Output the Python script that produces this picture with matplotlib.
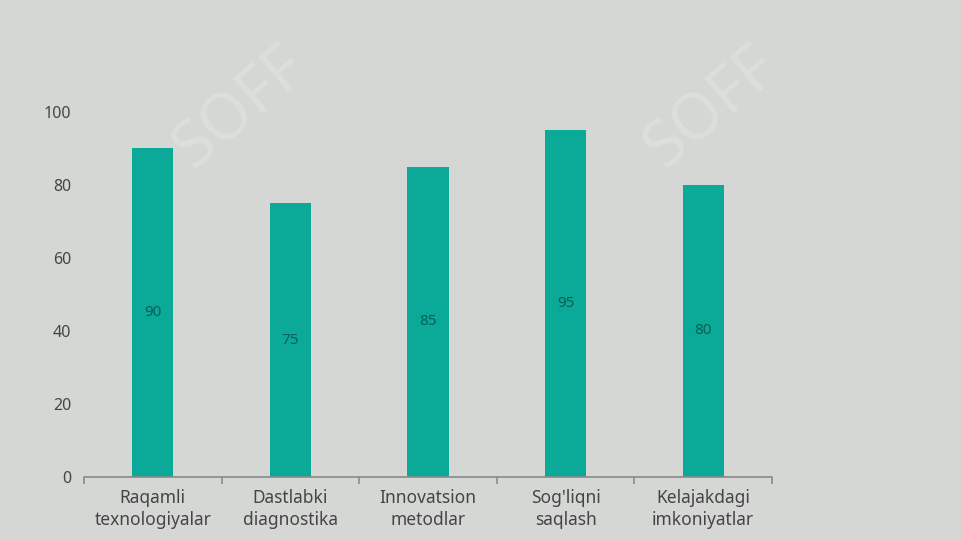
import numpy as np
import matplotlib
matplotlib.use("Agg")
import matplotlib.pyplot as plt

categories = ["Raqamli\ntexnologiyalar", "Dastlabki\ndiagnostika", "Innovatsion\nmetodlar",
              "Sog'liqni\nsaqlash", "Kelajakdagi\nimkoniyatlar"]
values = [90, 75, 85, 95, 80]
yticks = [0, 20, 40, 60, 80, 100]

bg = "#d5d7d5"
bar_color = "#0aa998"

plt.rcParams['font.family'] = ['Noto Sans', 'DejaVu Sans']

fig = plt.figure(figsize=(9.61, 5.40), dpi=100, facecolor=bg)
ax = fig.add_axes([0.0874, 0.1167, 0.7159, 0.6759])
ax.set_facecolor(bg)

x = np.arange(len(categories))
bars = ax.bar(x, values, width=0.3, color=bar_color, zorder=2)

# value labels in the middle of each bar
for xi, v in zip(x, values):
    ax.text(xi, v / 2, str(v), ha="center", va="center", fontsize=11, color="#0b5f56", zorder=3)

ax.set_xlim(-0.5, len(categories) - 0.5)
ax.set_ylim(0, 100)
ax.set_yticks(yticks)
ax.set_xticks(x)
ax.set_xticklabels(categories, fontsize=12.5, color="#454545", linespacing=1.25)
ax.set_xticks(np.arange(-0.5, len(categories)), minor=True)
ax.tick_params(axis="x", which="major", length=0, pad=9)
ax.tick_params(axis="x", which="minor", length=5, color="#8a8a8a", width=1.2)
ax.tick_params(axis="y", length=0, pad=9, labelsize=11.5, labelcolor="#454545")

for s in ["top", "right", "left"]:
    ax.spines[s].set_visible(False)
ax.spines["bottom"].set_color("#8a8a8a")
ax.spines["bottom"].set_linewidth(1.2)

# faint watermark
for wx, wy in [(0.25, 0.8), (0.74, 0.8)]:
    fig.text(wx, wy, "SOFF", fontsize=46, fontweight="bold", color="white", alpha=0.18,
             rotation=40, ha="center", va="center", zorder=0)

fig.savefig("out.png", dpi=100, facecolor=bg)
